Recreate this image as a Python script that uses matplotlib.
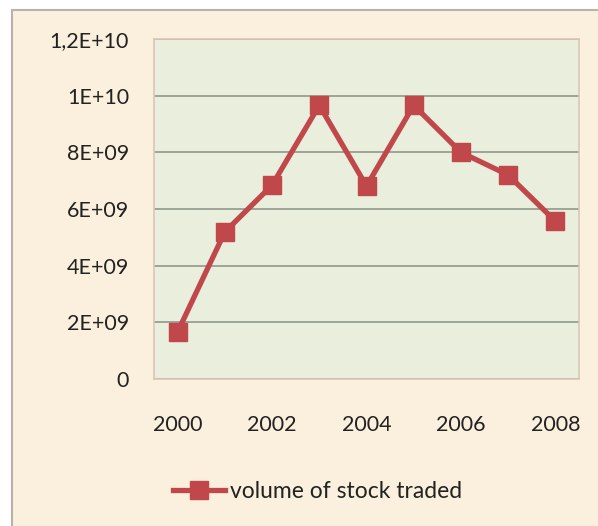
import matplotlib
matplotlib.use("Agg")
import matplotlib.pyplot as plt
from matplotlib.patches import Rectangle
from matplotlib.ticker import FixedLocator, FixedFormatter
from matplotlib.lines import Line2D

years = ["2000", "2001", "2002", "2003", "2004", "2005", "2006", "2007", "2008"]
volume = [1.66e9, 5.19e9, 6.84e9, 9.66e9, 6.81e9, 9.66e9, 8.0e9, 7.2e9, 5.57e9]
ytick_vals = [0, 2e9, 4e9, 6e9, 8e9, 1e10, 1.2e10]
ytick_labels = ["0", "2E+09", "4E+09", "6E+09", "8E+09", "1E+10", "1,2E+10"]
xtick_labels = ["2000", "", "2002", "", "2004", "", "2006", "", "2008"]
series_name = "volume of stock traded"

plt.rcParams['font.family'] = ['Lato', 'DejaVu Sans']
W, H = 598, 526
fig = plt.figure(figsize=(W/100, H/100), dpi=100)
fig.patch.set_facecolor('white')

# outer chart area
fig.patches.append(Rectangle((12/W, -0.05), 1.0, 1.05 - 10/H, transform=fig.transFigure,
                             facecolor='#fbf0dd', edgecolor='#b8b4ac', linewidth=1.5, zorder=-5))

left, right, top, bottom = 154, 579, 39, 379
ax = fig.add_axes([left/W, 1 - bottom/H, (right-left)/W, (bottom-top)/H])
ax.set_zorder(2)
ax.set_facecolor('#e9eedd')
red = '#c0474a'
x = list(range(len(years)))
ax.plot(x, volume, color=red, linewidth=3.8, marker='s', markersize=12.5,
        markerfacecolor=red, markeredgecolor=red, zorder=3, solid_joinstyle='miter')
ax.set_xlim(-0.5, len(years) - 0.5)
ax.set_ylim(0, 1.2e10)
ax.yaxis.set_major_locator(FixedLocator(ytick_vals))
ax.yaxis.set_major_formatter(FixedFormatter(ytick_labels))
ax.set_xticks(x)
ax.set_xticklabels(xtick_labels)
ax.grid(axis='y', color='#8e988a', linewidth=1.2)
ax.set_axisbelow(True)
for s in ['left', 'top', 'bottom', 'right']:
    ax.spines[s].set_color('#dcc6b6')
    ax.spines[s].set_linewidth(1.2)
ax.tick_params(axis='both', length=0, labelsize=15.5, colors='#222222')
ax.tick_params(axis='y', pad=18)
ax.tick_params(axis='x', pad=26)

# legend
handle = Line2D([], [], color=red, linewidth=3.8, marker='s', markersize=12.5,
                markerfacecolor=red, markeredgecolor=red)
leg = fig.legend([handle], [series_name], loc='center left', bbox_to_anchor=(152/W, 1 - 492/H),
                 frameon=False, fontsize=16.5, handlelength=2.3, handletextpad=0.2,
                 labelcolor='#222222')
leg.set_zorder(3)

fig.savefig("out.png", dpi=100, facecolor=fig.get_facecolor())
